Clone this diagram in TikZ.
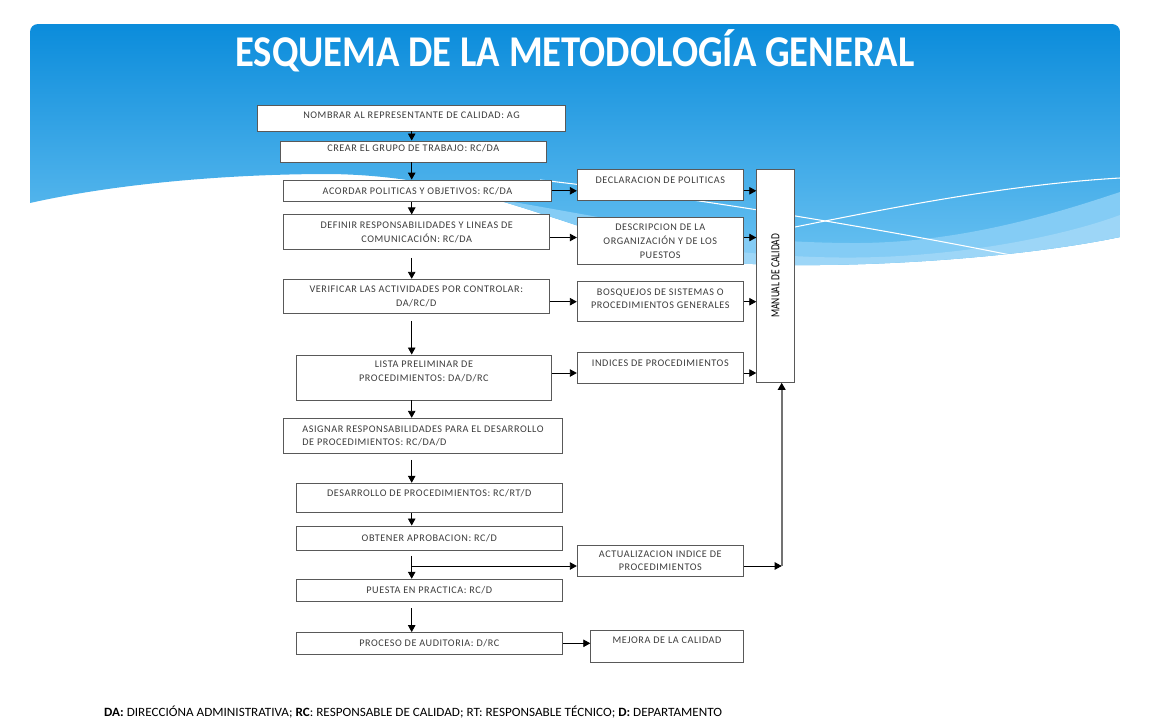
\documentclass[tikz,border=0pt]{standalone}
\usepackage{fontspec}
\setmainfont{Carlito}
\newfontfamily\cajafont{Carlito}[LetterSpace=5.5]
\usepackage{xcolor}
\usetikzlibrary{positioning,arrows.meta,calc}
\definecolor{cielo}{HTML}{0B8CDB}
\definecolor{cielob}{HTML}{6CC3F2}
\definecolor{banda}{HTML}{84CCF5}
\definecolor{bandab}{HTML}{9DD6F7}
\definecolor{borde}{HTML}{595959}
\definecolor{letra}{HTML}{3C3C3C}
\tikzset{
  caja/.style   ={rectangle, draw=borde, fill=white, line width=0.55pt, inner sep=0pt, align=center, text=letra, font=\cajafont\fontsize{5.8}{7.7}\selectfont},
  manual/.style ={rectangle, draw=borde, fill=white, line width=0.55pt, inner sep=0pt, text=black, font=\fontsize{7}{8}\selectfont},
  sube/.style   ={text depth=#1},
  flecha/.style ={-{Triangle[length=1.4mm,width=1.5mm]}, line width=0.5pt, draw=black},
  retorno/.style={-{Triangle[length=1.4mm,width=1.5mm,color=black]}, line width=1.1pt, draw=black!55},
  titulo/.style ={text=white, font=\bfseries\fontsize{25}{30}\selectfont},
  leyenda/.style={text=black, font=\fontsize{7.2}{8}\selectfont},
}

\begin{document}
\begin{tikzpicture}[x=0.02cm, y=-0.02cm]
\useasboundingbox (0,0) rectangle (1149,720);

% fondo
\begin{scope}
\clip (30,203) [rounded corners=0.16cm] -- (30,24) -- (1120,24) -- (1120,120) [sharp corners] -- (1120,237)
  .. controls (1000,262) and (800,272) .. (700,260)
  .. controls (560,230) and (480,176) .. (330,174)
  .. controls (220,174) and (110,185) .. (30,203) -- cycle;
\shade[top color=cielo, bottom color=cielob] (30,24) rectangle (1120,270);
\fill[banda] (470,195) .. controls (600,215) and (700,242) .. (850,243)
  .. controls (960,244) and (1060,212) .. (1120,192) -- (1120,280) -- (470,280) -- cycle;
\fill[bandab] (560,228) .. controls (700,250) and (800,262) .. (900,256)
  .. controls (1000,250) and (1080,230) .. (1120,215) -- (1120,280) -- (560,280) -- cycle;
\draw[white, line width=0.6pt] (540,180) .. controls (700,198) and (900,232) .. (1035,260);
\draw[white, line width=0.6pt] (760,234) .. controls (880,210) and (1000,185) .. (1120,178);
\end{scope}

\node[titulo, anchor=base] (titulo) at (575,66) {\scalebox{0.88}[1]{ESQUEMA DE LA METODOLOGÍA GENERAL}};

% columna izquierda
\node[caja, sube=3.4pt, minimum width=6.18cm, minimum height=0.52cm] (nombrar) at (411.5,118) {NOMBRAR AL REPRESENTANTE DE CALIDAD: AG};
\node[caja, sube=4pt, minimum width=5.33cm, minimum height=0.42cm] (crear) at (413.3,151.5) {CREAR EL GRUPO DE TRABAJO: RC/DA};
\node[caja, minimum width=5.37cm, minimum height=0.43cm] (acordar) at (417.5,190.8) {ACORDAR POLITICAS Y OBJETIVOS: RC/DA};
\node[caja, minimum width=5.33cm, minimum height=0.69cm] (definir) at (416.7,232.2) {DEFINIR RESPONSABILIDADES Y LINEAS DE\\COMUNICACIÓN: RC/DA};
\node[caja, minimum width=5.32cm, minimum height=0.68cm] (verificar) at (416.3,296.3) {VERIFICAR LAS ACTIVIDADES POR CONTROLAR:\\DA/RC/D};
\node[caja, sube=7pt, minimum width=5.11cm, minimum height=0.90cm] (lista) at (423.9,377.5) {LISTA PRELIMINAR DE\\PROCEDIMIENTOS: DA/D/RC};
\node[caja, align=left, minimum width=5.59cm, minimum height=0.70cm] (asignar) at (423,435.8) {ASIGNAR RESPONSABILIDADES PARA EL DESARROLLO\\DE PROCEDIMIENTOS: RC/DA/D};
\node[caja, sube=6pt, minimum width=5.33cm, minimum height=0.59cm] (desarrollo) at (429.3,498) {DESARROLLO DE PROCEDIMIENTOS: RC/RT/D};
\node[caja, minimum width=5.33cm, minimum height=0.48cm] (obtener) at (429.3,538) {OBTENER APROBACION: RC/D};
\node[caja, minimum width=5.33cm, minimum height=0.45cm] (puesta) at (429.3,590.5) {PUESTA EN PRACTICA: RC/D};
\node[caja, minimum width=5.33cm, minimum height=0.43cm] (proceso) at (429.3,643.3) {PROCESO DE AUDITORIA: D/RC};

% columna derecha
\node[caja, sube=5.7pt, minimum width=3.32cm, minimum height=0.63cm] (declaracion) at (660.3,185.2) {DECLARACION DE POLITICAS};
\node[caja, minimum width=3.32cm, minimum height=0.95cm] (descripcion) at (660.3,241.2) {DESCRIPCION DE LA\\ORGANIZACIÓN Y DE LOS\\PUESTOS};
\node[caja, sube=3.4pt, minimum width=3.32cm, minimum height=0.80cm] (bosquejos) at (660.3,301.7) {BOSQUEJOS DE SISTEMAS O\\PROCEDIMIENTOS GENERALES};
\node[caja, sube=5.7pt, minimum width=3.32cm, minimum height=0.63cm] (indices) at (660.3,368.2) {INDICES DE PROCEDIMIENTOS};
\node[caja, minimum width=3.32cm, minimum height=0.63cm] (actualizacion) at (660.3,560.8) {ACTUALIZACION INDICE DE\\PROCEDIMIENTOS};
\node[caja, sube=6.8pt, minimum width=3.05cm, minimum height=0.65cm] (mejora) at (667,646.3) {MEJORA DE LA CALIDAD};
\node[manual, minimum width=0.75cm, minimum height=4.26cm] (manual) at (775.5,275.8) {\rotatebox{90}{\scalebox{0.77}[1]{MANUAL DE CALIDAD}}};

\node[leyenda, anchor=base west] (leyenda) at (98,716) {\scalebox{1.04}[1]{\textbf{DA:} DIRECCIÓNA ADMINISTRATIVA; \textbf{RC}: RESPONSABLE DE CALIDAD; RT: RESPONSABLE TÉCNICO; \textbf{D:} DEPARTAMENTO}};

\coordinate (eje) at (411.7,0);
\coordinate (n2) at (0,237.5);
\coordinate (n4) at (0,373);
\coordinate (rama) at (411.7,566);
\coordinate (esquina) at (781.7,566);

% flujo principal
\draw[flecha] (nombrar.south -| eje) -- (crear.north -| eje);
\draw[flecha] (crear.south -| eje) -- (acordar.north -| eje);
\draw[flecha] (acordar.south -| eje) -- (definir.north -| eje);
\draw[flecha, shorten <=4.5pt] (definir.south -| eje) -- (verificar.north -| eje);
\draw[flecha, shorten <=4pt] (verificar.south -| eje) -- (lista.north -| eje);
\draw[flecha] (lista.south -| eje) -- (asignar.north -| eje);
\draw[flecha, shorten <=3.4pt] (asignar.south -| eje) -- (desarrollo.north -| eje);
\draw[flecha] (desarrollo.south -| eje) -- (obtener.north -| eje);
\draw[flecha, shorten <=3pt] (obtener.south -| eje) -- (puesta.north -| eje);
\draw[flecha, shorten <=3.4pt] (puesta.south -| eje) -- (proceso.north -| eje);

% hacia la derecha
\draw[flecha] (acordar.east) -- (declaracion.west |- acordar.east);
\draw[flecha] (definir.east |- n2) -- (descripcion.west |- n2);
\draw[flecha] (verificar.east |- bosquejos.west) -- (bosquejos.west);
\draw[flecha] (lista.east |- n4) -- (indices.west |- n4);
\draw[flecha] (rama) -- (actualizacion.west |- rama);
\draw[flecha] (proceso.east) -- (mejora.west |- proceso.east);

% al manual
\draw[flecha] (declaracion.east |- acordar.east) -- (manual.west |- acordar.east);
\draw[flecha] (descripcion.east |- n2) -- (manual.west |- n2);
\draw[flecha] (bosquejos.east) -- (manual.west |- bosquejos.east);
\draw[flecha] (indices.east |- n4) -- (manual.west |- n4);
\draw[flecha] (actualizacion.east |- esquina) -- (esquina);
\draw[retorno] (esquina) -- (manual.south -| esquina);

\end{tikzpicture}
\end{document}
